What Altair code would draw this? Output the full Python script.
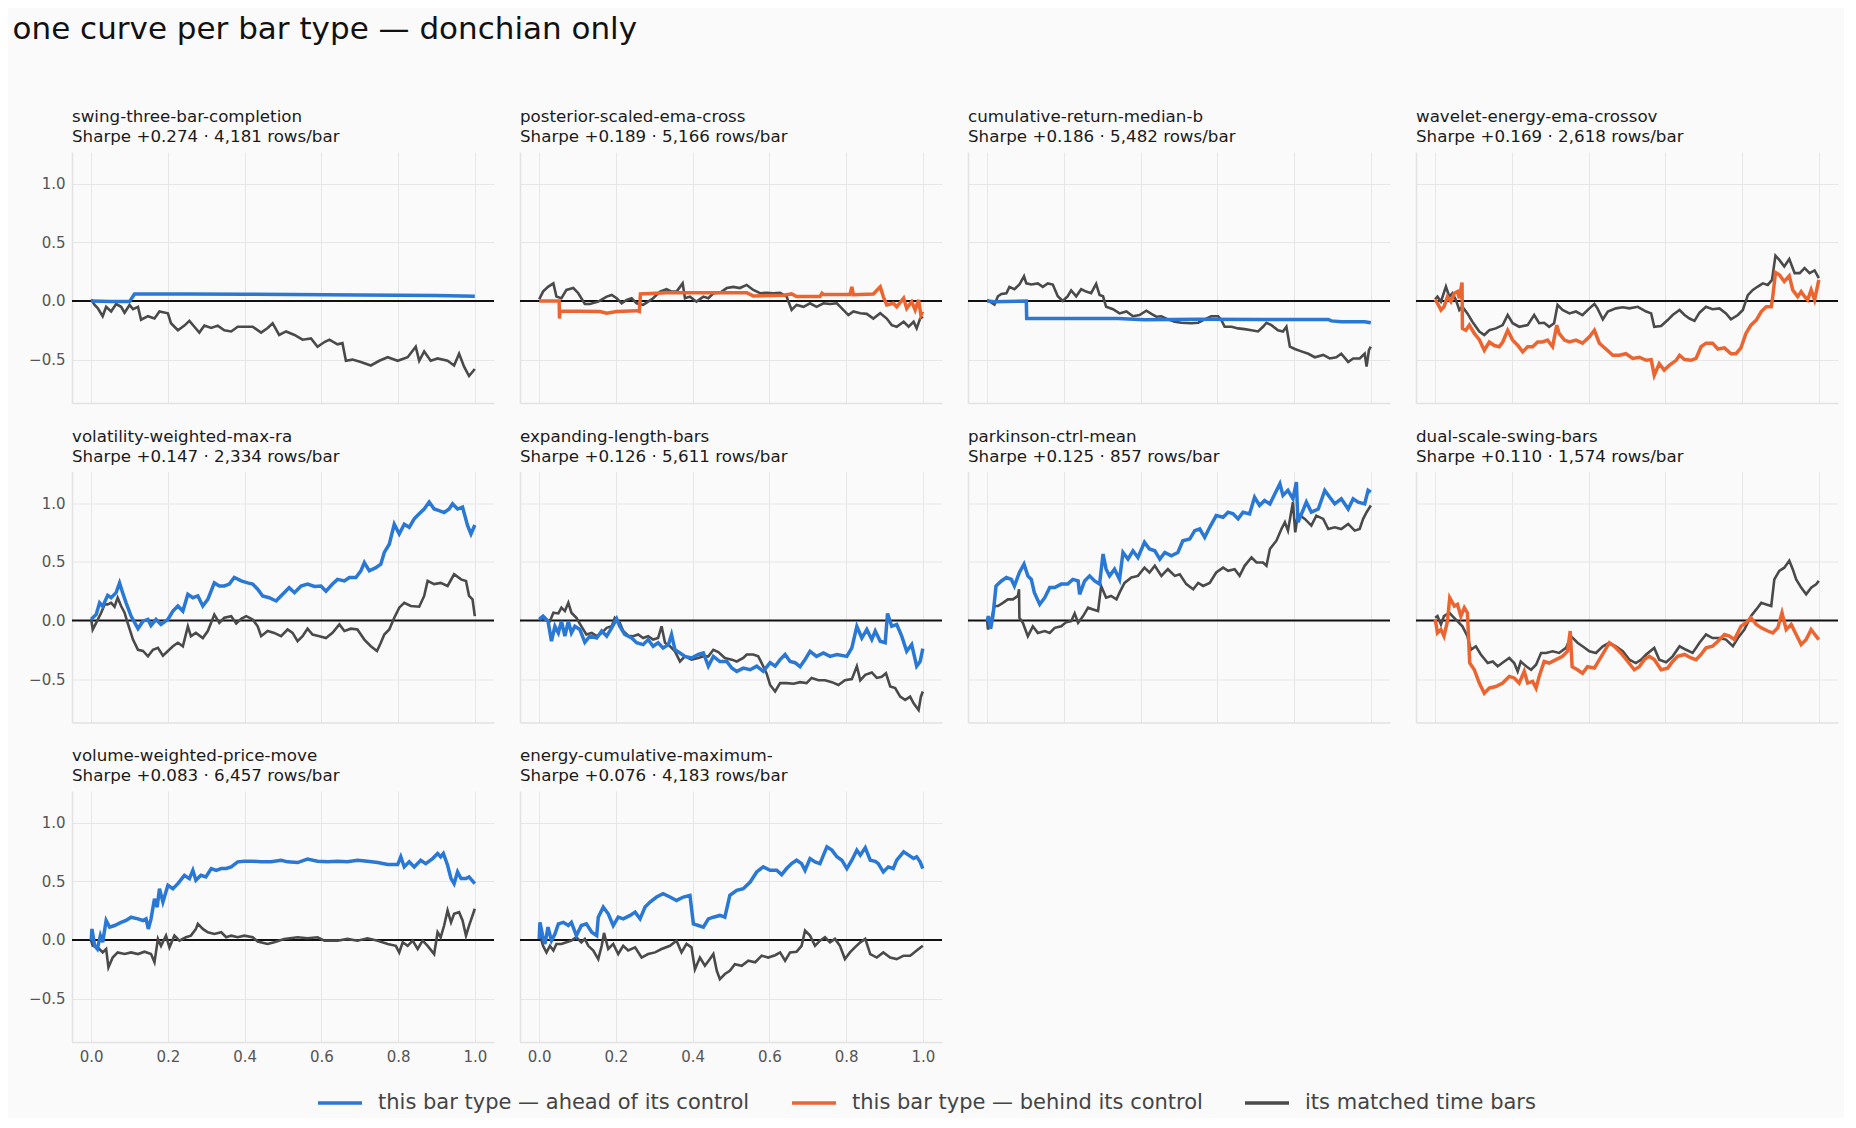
import altair as alt
import pandas as pd

# legend labels
AHEAD = "this bar type — ahead of its control"
BEHIND = "this bar type — behind its control"
MATCHED = "its matched time bars"

names = [
    "swing-three-bar-completion", "posterior-scaled-ema-cross", "cumulative-return-median-b",
    "wavelet-energy-ema-crossov", "volatility-weighted-max-ra", "expanding-length-bars",
    "parkinson-ctrl-mean", "dual-scale-swing-bars", "volume-weighted-price-move",
    "energy-cumulative-maximum-",
]
sharpe = [0.274, 0.189, 0.186, 0.169, 0.147, 0.126, 0.125, 0.110, 0.083, 0.076]
rows_per_bar = [4181, 5166, 5482, 2618, 2334, 5611, 857, 1574, 6457, 4183]
ahead = [True, False, True, False, True, True, True, False, True, True]

# (fraction of run, cumulative return)
swing_bar = [(0.0, 0.0), (0.05, -0.004), (0.10, -0.005), (0.105, 0.02), (0.113, 0.06), (0.25, 0.06),
             (0.40, 0.058), (0.52, 0.055), (0.70, 0.051), (0.90, 0.046), (1.0, 0.04)]
swing_ctrl = [(0.0, 0.014), (0.009, -0.034), (0.017, -0.06), (0.030, -0.13), (0.039, -0.05), (0.052, -0.09),
              (0.065, -0.026), (0.078, -0.05), (0.087, -0.10), (0.100, -0.034), (0.109, -0.07), (0.122, -0.05),
              (0.130, -0.16), (0.148, -0.13), (0.165, -0.15), (0.178, -0.09), (0.200, -0.105), (0.208, -0.19),
              (0.226, -0.25), (0.243, -0.21), (0.256, -0.17), (0.269, -0.22), (0.282, -0.27), (0.295, -0.21),
              (0.313, -0.23), (0.330, -0.21), (0.347, -0.25), (0.365, -0.26), (0.382, -0.22), (0.400, -0.22),
              (0.421, -0.22), (0.443, -0.27), (0.460, -0.23), (0.473, -0.19), (0.490, -0.29), (0.508, -0.26),
              (0.530, -0.29), (0.551, -0.33), (0.573, -0.32), (0.590, -0.39), (0.608, -0.35), (0.621, -0.33),
              (0.642, -0.37), (0.655, -0.36), (0.664, -0.51), (0.681, -0.50), (0.703, -0.52), (0.729, -0.55),
              (0.751, -0.51), (0.773, -0.48), (0.799, -0.51), (0.825, -0.48), (0.846, -0.39), (0.855, -0.51),
              (0.868, -0.43), (0.885, -0.51), (0.903, -0.49), (0.929, -0.51), (0.946, -0.55), (0.959, -0.45),
              (0.972, -0.56), (0.985, -0.64), (1.0, -0.58)]

posterior_bar = [(0.0, 0.0), (0.052, 0.0), (0.053, -0.15), (0.054, -0.086), (0.158, -0.09), (0.176, -0.105),
                 (0.202, -0.09), (0.254, -0.083), (0.261, -0.09), (0.264, 0.06), (0.332, 0.07), (0.463, 0.07),
                 (0.541, 0.07), (0.558, 0.043), (0.637, 0.049), (0.658, 0.06), (0.671, 0.037), (0.732, 0.037),
                 (0.737, 0.066), (0.741, 0.054), (0.810, 0.054), (0.815, 0.12), (0.819, 0.054), (0.871, 0.06),
                 (0.889, 0.12), (0.897, 0.037), (0.906, -0.034), (0.923, -0.02), (0.932, -0.05), (0.950, 0.023),
                 (0.958, -0.063), (0.971, -0.006), (0.980, -0.077), (0.989, 0.009), (0.995, -0.12), (1.0, -0.09)]
posterior_ctrl = [(0.0, 0.014), (0.010, 0.08), (0.023, 0.12), (0.037, 0.15), (0.045, 0.037), (0.058, 0.023),
                  (0.071, 0.094), (0.089, 0.11), (0.102, 0.066), (0.119, -0.026), (0.132, -0.026), (0.154, -0.006),
                  (0.176, 0.037), (0.189, 0.051), (0.202, 0.023), (0.215, -0.02), (0.228, 0.009), (0.241, 0.023),
                  (0.254, -0.02), (0.271, -0.034), (0.284, -0.006), (0.297, 0.023), (0.315, 0.08), (0.332, 0.10),
                  (0.345, 0.08), (0.358, 0.08), (0.374, 0.15), (0.380, 0.023), (0.393, 0.037), (0.410, -0.006),
                  (0.428, 0.037), (0.441, 0.023), (0.454, 0.066), (0.471, 0.07), (0.489, 0.11), (0.506, 0.12),
                  (0.523, 0.11), (0.541, 0.137), (0.558, 0.094), (0.576, 0.066), (0.593, 0.07), (0.610, 0.066),
                  (0.628, 0.07), (0.645, 0.037), (0.658, -0.077), (0.671, -0.034), (0.689, -0.05), (0.706, -0.02),
                  (0.723, -0.05), (0.741, -0.02), (0.758, -0.026), (0.776, -0.02), (0.789, -0.063), (0.806, -0.12),
                  (0.819, -0.09), (0.837, -0.105), (0.854, -0.11), (0.871, -0.15), (0.889, -0.105), (0.906, -0.15),
                  (0.919, -0.206), (0.932, -0.22), (0.950, -0.177), (0.963, -0.22), (0.976, -0.177), (0.984, -0.234),
                  (0.993, -0.15), (1.0, -0.134)]

cumret_bar = [(0.0, 0.0), (0.019, -0.006), (0.102, 0.0), (0.103, -0.15), (0.341, -0.15), (0.410, -0.16),
              (0.550, -0.157), (0.723, -0.158), (0.889, -0.158), (0.897, -0.17), (0.923, -0.177), (0.984, -0.177),
              (1.0, -0.186)]
cumret_ctrl = [(0.0, 0.01), (0.019, -0.03), (0.028, 0.04), (0.037, 0.06), (0.050, 0.066), (0.058, 0.12),
               (0.071, 0.10), (0.084, 0.14), (0.096, 0.21), (0.102, 0.15), (0.115, 0.14), (0.132, 0.15),
               (0.145, 0.12), (0.158, 0.15), (0.171, 0.14), (0.184, 0.04), (0.197, 0.0), (0.210, 0.04),
               (0.219, 0.09), (0.232, 0.04), (0.245, 0.10), (0.258, 0.08), (0.271, 0.066), (0.284, 0.146),
               (0.293, 0.05), (0.302, 0.04), (0.310, -0.05), (0.328, -0.07), (0.345, -0.106), (0.363, -0.09),
               (0.380, -0.13), (0.397, -0.12), (0.415, -0.083), (0.428, -0.11), (0.441, -0.134), (0.454, -0.13),
               (0.471, -0.157), (0.489, -0.177), (0.506, -0.186), (0.532, -0.19), (0.550, -0.186), (0.567, -0.157),
               (0.584, -0.13), (0.602, -0.13), (0.610, -0.16), (0.619, -0.22), (0.637, -0.22), (0.654, -0.234),
               (0.671, -0.24), (0.689, -0.25), (0.706, -0.26), (0.719, -0.22), (0.728, -0.186), (0.741, -0.206),
               (0.758, -0.25), (0.771, -0.26), (0.780, -0.22), (0.789, -0.39), (0.802, -0.41), (0.819, -0.43),
               (0.837, -0.45), (0.854, -0.48), (0.876, -0.46), (0.893, -0.49), (0.910, -0.48), (0.923, -0.45),
               (0.941, -0.52), (0.954, -0.49), (0.971, -0.49), (0.984, -0.45), (0.989, -0.56), (0.995, -0.42),
               (1.0, -0.39)]

wavelet_bar = [(0.0, 0.014), (0.006, -0.02), (0.015, -0.077), (0.023, -0.05), (0.032, 0.037), (0.041, -0.006),
               (0.050, 0.066), (0.058, 0.08), (0.063, 0.023), (0.070, 0.157), (0.071, -0.234), (0.080, -0.25),
               (0.089, -0.206), (0.102, -0.277), (0.115, -0.33), (0.128, -0.42), (0.141, -0.35), (0.154, -0.38),
               (0.167, -0.39), (0.176, -0.35), (0.189, -0.25), (0.202, -0.334), (0.215, -0.377), (0.228, -0.434),
               (0.241, -0.39), (0.254, -0.39), (0.267, -0.35), (0.280, -0.35), (0.293, -0.334), (0.306, -0.39),
               (0.317, -0.206), (0.323, -0.277), (0.337, -0.334), (0.350, -0.35), (0.367, -0.334), (0.384, -0.36),
               (0.402, -0.306), (0.415, -0.25), (0.428, -0.36), (0.445, -0.41), (0.463, -0.463), (0.480, -0.463),
               (0.497, -0.45), (0.515, -0.49), (0.532, -0.48), (0.550, -0.506), (0.563, -0.50), (0.571, -0.634),
               (0.584, -0.534), (0.597, -0.59), (0.610, -0.55), (0.628, -0.506), (0.637, -0.463), (0.650, -0.50),
               (0.667, -0.506), (0.680, -0.49), (0.693, -0.39), (0.706, -0.36), (0.723, -0.36), (0.737, -0.41),
               (0.754, -0.40), (0.771, -0.45), (0.784, -0.45), (0.797, -0.40), (0.810, -0.277), (0.823, -0.206),
               (0.837, -0.163), (0.850, -0.09), (0.863, -0.05), (0.876, -0.05), (0.880, 0.037), (0.887, 0.243),
               (0.897, 0.223), (0.910, 0.166), (0.923, 0.214), (0.932, 0.094), (0.945, 0.037), (0.954, 0.08),
               (0.963, 0.037), (0.971, 0.009), (0.980, 0.094), (0.989, 0.009), (1.0, 0.18)]
wavelet_ctrl = [(0.0, 0.014), (0.006, 0.037), (0.015, -0.006), (0.028, 0.123), (0.037, 0.037), (0.045, 0.066),
                (0.054, 0.009), (0.063, -0.077), (0.071, -0.05), (0.084, -0.106), (0.097, -0.177), (0.115, -0.26),
                (0.128, -0.29), (0.141, -0.25), (0.158, -0.234), (0.176, -0.206), (0.189, -0.12), (0.202, -0.19),
                (0.219, -0.22), (0.241, -0.206), (0.258, -0.12), (0.271, -0.19), (0.284, -0.186), (0.297, -0.22),
                (0.310, -0.19), (0.319, -0.034), (0.332, -0.077), (0.350, -0.106), (0.367, -0.09), (0.384, -0.12),
                (0.402, -0.063), (0.415, -0.026), (0.423, -0.063), (0.437, -0.157), (0.450, -0.09), (0.471, -0.063),
                (0.489, -0.054), (0.506, -0.063), (0.528, -0.05), (0.550, -0.09), (0.563, -0.106), (0.571, -0.22),
                (0.589, -0.214), (0.606, -0.163), (0.619, -0.12), (0.637, -0.077), (0.650, -0.12), (0.663, -0.15),
                (0.676, -0.17), (0.689, -0.10), (0.706, -0.05), (0.723, -0.07), (0.741, -0.063), (0.758, -0.106),
                (0.771, -0.157), (0.789, -0.12), (0.802, -0.077), (0.815, 0.05), (0.828, 0.094), (0.841, 0.123),
                (0.854, 0.15), (0.867, 0.137), (0.878, 0.18), (0.887, 0.386), (0.897, 0.35), (0.910, 0.294),
                (0.923, 0.357), (0.937, 0.237), (0.950, 0.237), (0.963, 0.28), (0.976, 0.237), (0.989, 0.26),
                (1.0, 0.194)]

volmax_bar = [(0.0, 0.01), (0.004, 0.023), (0.013, 0.05), (0.022, 0.15), (0.030, 0.12), (0.043, 0.214),
              (0.052, 0.194), (0.065, 0.237), (0.074, 0.32), (0.082, 0.237), (0.091, 0.15), (0.104, 0.037),
              (0.122, -0.07), (0.135, -0.006), (0.148, 0.009), (0.156, -0.043), (0.169, 0.009), (0.182, -0.034),
              (0.200, 0.009), (0.213, 0.08), (0.226, 0.123), (0.239, 0.08), (0.252, 0.223), (0.265, 0.194),
              (0.278, 0.209), (0.291, 0.123), (0.304, 0.18), (0.321, 0.32), (0.334, 0.294), (0.347, 0.294),
              (0.360, 0.31), (0.373, 0.366), (0.391, 0.337), (0.408, 0.32), (0.421, 0.31), (0.434, 0.266),
              (0.447, 0.209), (0.464, 0.194), (0.482, 0.166), (0.490, 0.194), (0.503, 0.237), (0.516, 0.28),
              (0.530, 0.237), (0.547, 0.294), (0.564, 0.31), (0.582, 0.29), (0.599, 0.294), (0.612, 0.25),
              (0.629, 0.31), (0.642, 0.35), (0.660, 0.337), (0.673, 0.366), (0.690, 0.366), (0.703, 0.423),
              (0.712, 0.494), (0.725, 0.423), (0.742, 0.45), (0.755, 0.48), (0.764, 0.58), (0.777, 0.65),
              (0.790, 0.82), (0.803, 0.737), (0.816, 0.82), (0.829, 0.794), (0.842, 0.866), (0.855, 0.91),
              (0.868, 0.95), (0.881, 1.01), (0.894, 0.95), (0.907, 0.937), (0.920, 0.92), (0.933, 0.95),
              (0.942, 0.994), (0.955, 0.95), (0.968, 0.966), (0.981, 0.81), (0.990, 0.737), (1.0, 0.814)]
volmax_ctrl = [(0.0, 0.01), (0.004, -0.077), (0.013, -0.02), (0.026, 0.066), (0.035, 0.137), (0.043, 0.137),
               (0.052, 0.15), (0.061, 0.117), (0.069, 0.194), (0.078, 0.123), (0.087, 0.066), (0.095, -0.02),
               (0.109, -0.163), (0.122, -0.25), (0.135, -0.26), (0.148, -0.306), (0.161, -0.25), (0.174, -0.234),
               (0.187, -0.3), (0.200, -0.26), (0.213, -0.22), (0.226, -0.19), (0.239, -0.22), (0.252, -0.05),
               (0.260, -0.134), (0.273, -0.106), (0.291, -0.15), (0.304, -0.09), (0.321, 0.05), (0.334, -0.02),
               (0.347, 0.023), (0.365, 0.037), (0.378, -0.026), (0.391, 0.014), (0.404, 0.037), (0.421, 0.009),
               (0.434, -0.05), (0.443, -0.134), (0.460, -0.09), (0.477, -0.106), (0.495, -0.134), (0.512, -0.077),
               (0.525, -0.106), (0.538, -0.177), (0.551, -0.134), (0.564, -0.07), (0.577, -0.12), (0.595, -0.134),
               (0.612, -0.15), (0.629, -0.106), (0.647, -0.034), (0.660, -0.09), (0.677, -0.07), (0.694, -0.077),
               (0.712, -0.163), (0.729, -0.22), (0.745, -0.26), (0.755, -0.19), (0.764, -0.12), (0.777, -0.077),
               (0.790, 0.023), (0.803, 0.109), (0.816, 0.15), (0.833, 0.123), (0.855, 0.117), (0.868, 0.209),
               (0.877, 0.337), (0.894, 0.31), (0.911, 0.32), (0.929, 0.294), (0.946, 0.394), (0.964, 0.35),
               (0.977, 0.337), (0.985, 0.209), (0.994, 0.18), (1.0, 0.037)]

expanding_bar = [(0.0, 0.01), (0.010, 0.037), (0.023, -0.006), (0.032, -0.177), (0.041, -0.05), (0.050, -0.106),
                 (0.058, -0.006), (0.067, -0.134), (0.076, -0.006), (0.084, -0.106), (0.093, -0.05), (0.106, -0.077),
                 (0.119, -0.186), (0.132, -0.134), (0.150, -0.15), (0.163, -0.09), (0.176, -0.134), (0.189, -0.063),
                 (0.202, 0.014), (0.210, -0.05), (0.223, -0.12), (0.241, -0.15), (0.254, -0.19), (0.271, -0.206),
                 (0.284, -0.163), (0.297, -0.22), (0.310, -0.19), (0.323, -0.234), (0.337, -0.206), (0.345, -0.12),
                 (0.354, -0.25), (0.367, -0.277), (0.380, -0.306), (0.397, -0.32), (0.415, -0.29), (0.428, -0.277),
                 (0.441, -0.39), (0.454, -0.306), (0.471, -0.35), (0.489, -0.35), (0.502, -0.406), (0.515, -0.434),
                 (0.532, -0.406), (0.550, -0.42), (0.567, -0.39), (0.584, -0.434), (0.602, -0.36), (0.615, -0.39),
                 (0.628, -0.334), (0.641, -0.29), (0.654, -0.35), (0.667, -0.36), (0.680, -0.394), (0.693, -0.334),
                 (0.706, -0.263), (0.723, -0.306), (0.741, -0.277), (0.758, -0.306), (0.776, -0.29), (0.802, -0.306),
                 (0.815, -0.234), (0.828, -0.05), (0.841, -0.15), (0.854, -0.077), (0.867, -0.163), (0.876, -0.09),
                 (0.889, -0.177), (0.902, -0.19), (0.908, 0.06), (0.919, -0.05), (0.932, -0.034), (0.945, -0.134),
                 (0.958, -0.263), (0.971, -0.206), (0.984, -0.39), (0.993, -0.35), (1.0, -0.24)]
expanding_ctrl = [(0.0, 0.01), (0.010, 0.01), (0.028, -0.006), (0.037, 0.066), (0.050, 0.06), (0.058, 0.109),
                  (0.067, 0.08), (0.076, 0.15), (0.084, 0.066), (0.097, 0.023), (0.110, -0.05), (0.123, -0.12),
                  (0.137, -0.106), (0.150, -0.134), (0.163, -0.106), (0.176, -0.063), (0.189, -0.05), (0.197, 0.023),
                  (0.210, -0.02), (0.219, -0.09), (0.232, -0.13), (0.245, -0.134), (0.258, -0.12), (0.271, -0.15),
                  (0.284, -0.134), (0.297, -0.163), (0.310, -0.15), (0.319, -0.05), (0.328, -0.19), (0.341, -0.22),
                  (0.354, -0.263), (0.367, -0.35), (0.380, -0.306), (0.397, -0.334), (0.415, -0.32), (0.428, -0.306),
                  (0.441, -0.306), (0.454, -0.25), (0.467, -0.27), (0.484, -0.32), (0.502, -0.334), (0.515, -0.35),
                  (0.532, -0.32), (0.541, -0.29), (0.558, -0.29), (0.571, -0.306), (0.584, -0.39), (0.593, -0.454),
                  (0.602, -0.55), (0.615, -0.606), (0.628, -0.534), (0.645, -0.534), (0.663, -0.54), (0.680, -0.526),
                  (0.697, -0.534), (0.710, -0.49), (0.728, -0.51), (0.745, -0.51), (0.763, -0.526), (0.780, -0.55),
                  (0.797, -0.51), (0.815, -0.50), (0.828, -0.39), (0.837, -0.51), (0.850, -0.463), (0.867, -0.443),
                  (0.880, -0.49), (0.893, -0.48), (0.904, -0.45), (0.915, -0.563), (0.928, -0.577), (0.941, -0.65),
                  (0.954, -0.677), (0.967, -0.65), (0.976, -0.706), (0.989, -0.763), (0.995, -0.65), (1.0, -0.606)]

parkinson_bar = [(0.0, -0.006), (0.003, 0.037), (0.009, -0.07), (0.015, 0.037), (0.023, 0.294), (0.037, 0.337),
                 (0.050, 0.366), (0.063, 0.35), (0.071, 0.294), (0.084, 0.409), (0.096, 0.48), (0.106, 0.38),
                 (0.115, 0.35), (0.123, 0.237), (0.137, 0.137), (0.150, 0.194), (0.163, 0.28), (0.176, 0.28),
                 (0.193, 0.31), (0.210, 0.31), (0.223, 0.35), (0.237, 0.337), (0.241, 0.223), (0.254, 0.337),
                 (0.267, 0.38), (0.280, 0.337), (0.293, 0.31), (0.302, 0.566), (0.310, 0.437), (0.319, 0.38),
                 (0.332, 0.437), (0.345, 0.35), (0.354, 0.58), (0.367, 0.523), (0.380, 0.594), (0.393, 0.537),
                 (0.410, 0.666), (0.423, 0.609), (0.437, 0.594), (0.450, 0.523), (0.463, 0.58), (0.480, 0.551),
                 (0.497, 0.58), (0.510, 0.68), (0.528, 0.694), (0.541, 0.766), (0.554, 0.78), (0.567, 0.709),
                 (0.580, 0.794), (0.597, 0.894), (0.615, 0.88), (0.628, 0.923), (0.641, 0.909), (0.654, 0.866),
                 (0.667, 0.923), (0.684, 0.909), (0.697, 1.05), (0.710, 0.98), (0.723, 1.023), (0.737, 0.994),
                 (0.750, 1.08), (0.763, 1.166), (0.771, 1.066), (0.784, 1.109), (0.797, 1.037), (0.806, 1.18),
                 (0.810, 0.837), (0.823, 0.937), (0.832, 1.009), (0.845, 0.923), (0.863, 0.95), (0.880, 1.109),
                 (0.893, 1.05), (0.906, 0.994), (0.923, 1.037), (0.941, 0.95), (0.954, 1.037), (0.967, 1.009),
                 (0.984, 0.994), (0.993, 1.109), (1.0, 1.094)]
parkinson_ctrl = [(0.0, -0.006), (0.002, -0.077), (0.010, -0.006), (0.019, 0.123), (0.028, 0.123), (0.041, 0.15),
                  (0.054, 0.18), (0.067, 0.18), (0.080, 0.209), (0.083, 0.266), (0.084, 0.023), (0.093, -0.02),
                  (0.106, -0.134), (0.119, -0.05), (0.132, -0.106), (0.150, -0.09), (0.163, -0.106), (0.176, -0.063),
                  (0.193, -0.05), (0.206, -0.014), (0.219, -0.006), (0.228, 0.06), (0.237, -0.02), (0.250, 0.037),
                  (0.263, 0.109), (0.276, 0.094), (0.289, 0.08), (0.297, 0.294), (0.310, 0.194), (0.323, 0.209),
                  (0.337, 0.18), (0.345, 0.237), (0.358, 0.32), (0.376, 0.366), (0.393, 0.38), (0.410, 0.45),
                  (0.423, 0.409), (0.437, 0.466), (0.454, 0.38), (0.471, 0.437), (0.489, 0.38), (0.502, 0.394),
                  (0.519, 0.31), (0.537, 0.266), (0.550, 0.32), (0.563, 0.294), (0.580, 0.32), (0.597, 0.409),
                  (0.615, 0.45), (0.628, 0.423), (0.645, 0.437), (0.658, 0.38), (0.671, 0.466), (0.689, 0.537),
                  (0.702, 0.494), (0.719, 0.494), (0.728, 0.466), (0.737, 0.609), (0.754, 0.68), (0.767, 0.78),
                  (0.776, 0.837), (0.784, 0.766), (0.797, 1.009), (0.803, 0.751), (0.810, 0.909), (0.828, 0.866),
                  (0.845, 0.809), (0.858, 0.894), (0.876, 0.866), (0.889, 0.78), (0.906, 0.794), (0.923, 0.78),
                  (0.941, 0.823), (0.958, 0.766), (0.971, 0.78), (0.980, 0.866), (0.989, 0.923), (1.0, 0.98)]

dualswing_bar = [(0.0, 0.01), (0.006, -0.106), (0.015, -0.077), (0.023, -0.134), (0.032, -0.006), (0.038, 0.194),
                 (0.050, 0.123), (0.058, 0.137), (0.067, 0.037), (0.076, 0.109), (0.084, 0.066), (0.090, -0.363),
                 (0.102, -0.42), (0.115, -0.534), (0.128, -0.62), (0.141, -0.577), (0.158, -0.563), (0.176, -0.534),
                 (0.193, -0.477), (0.206, -0.49), (0.219, -0.534), (0.232, -0.434), (0.241, -0.534), (0.254, -0.52),
                 (0.263, -0.577), (0.271, -0.477), (0.284, -0.35), (0.297, -0.363), (0.315, -0.334), (0.332, -0.306),
                 (0.345, -0.263), (0.352, -0.09), (0.357, -0.394), (0.371, -0.42), (0.384, -0.45), (0.397, -0.394),
                 (0.415, -0.406), (0.428, -0.334), (0.441, -0.263), (0.454, -0.19), (0.467, -0.22), (0.484, -0.277),
                 (0.502, -0.35), (0.519, -0.42), (0.532, -0.394), (0.545, -0.334), (0.558, -0.306), (0.571, -0.334),
                 (0.589, -0.42), (0.606, -0.406), (0.619, -0.35), (0.632, -0.306), (0.650, -0.29), (0.667, -0.32),
                 (0.680, -0.334), (0.693, -0.29), (0.706, -0.234), (0.723, -0.22), (0.737, -0.177), (0.754, -0.12),
                 (0.767, -0.134), (0.780, -0.163), (0.797, -0.05), (0.810, -0.02), (0.823, 0.023), (0.837, -0.034),
                 (0.850, -0.063), (0.867, -0.09), (0.880, -0.106), (0.893, -0.063), (0.904, 0.066), (0.915, -0.077),
                 (0.928, -0.034), (0.941, -0.12), (0.954, -0.206), (0.967, -0.163), (0.980, -0.077), (0.993, -0.134),
                 (1.0, -0.163)]
dualswing_ctrl = [(0.0, 0.023), (0.006, 0.037), (0.015, -0.034), (0.023, 0.037), (0.037, 0.066), (0.045, 0.037),
                  (0.058, -0.006), (0.071, -0.05), (0.084, -0.134), (0.093, -0.25), (0.106, -0.22), (0.119, -0.29),
                  (0.137, -0.363), (0.150, -0.35), (0.163, -0.39), (0.180, -0.35), (0.193, -0.32), (0.206, -0.363),
                  (0.215, -0.434), (0.223, -0.35), (0.237, -0.39), (0.250, -0.42), (0.263, -0.377), (0.276, -0.277),
                  (0.289, -0.277), (0.306, -0.263), (0.323, -0.277), (0.341, -0.234), (0.354, -0.134), (0.371, -0.19),
                  (0.384, -0.22), (0.402, -0.263), (0.419, -0.277), (0.437, -0.22), (0.454, -0.19), (0.471, -0.22),
                  (0.489, -0.263), (0.506, -0.334), (0.523, -0.363), (0.537, -0.334), (0.550, -0.29), (0.571, -0.234),
                  (0.584, -0.334), (0.602, -0.357), (0.619, -0.306), (0.637, -0.22), (0.654, -0.25), (0.671, -0.277),
                  (0.689, -0.19), (0.706, -0.12), (0.723, -0.15), (0.741, -0.15), (0.758, -0.163), (0.776, -0.22),
                  (0.789, -0.15), (0.806, -0.077), (0.823, 0.037), (0.837, 0.094), (0.850, 0.15), (0.863, 0.137),
                  (0.876, 0.123), (0.884, 0.35), (0.897, 0.423), (0.910, 0.45), (0.923, 0.509), (0.932, 0.437),
                  (0.941, 0.35), (0.954, 0.28), (0.967, 0.223), (0.980, 0.28), (0.993, 0.309), (1.0, 0.337)]

volprice_bar = [(0.0, -0.006), (0.002, 0.094), (0.009, -0.05), (0.016, -0.077), (0.024, 0.037), (0.030, -0.02),
                (0.039, 0.166), (0.048, 0.109), (0.061, 0.123), (0.078, 0.15), (0.091, 0.166), (0.104, 0.194),
                (0.122, 0.18), (0.135, 0.166), (0.143, 0.18), (0.149, 0.094), (0.156, 0.18), (0.165, 0.35),
                (0.172, 0.28), (0.178, 0.437), (0.187, 0.323), (0.200, 0.466), (0.213, 0.437), (0.226, 0.48),
                (0.243, 0.551), (0.256, 0.523), (0.265, 0.594), (0.273, 0.509), (0.286, 0.551), (0.299, 0.537),
                (0.313, 0.609), (0.326, 0.594), (0.339, 0.609), (0.352, 0.609), (0.365, 0.623), (0.382, 0.666),
                (0.399, 0.671), (0.421, 0.671), (0.443, 0.666), (0.469, 0.666), (0.495, 0.68), (0.512, 0.666),
                (0.538, 0.66), (0.564, 0.689), (0.590, 0.671), (0.616, 0.666), (0.642, 0.671), (0.668, 0.666),
                (0.694, 0.68), (0.720, 0.671), (0.747, 0.66), (0.773, 0.643), (0.799, 0.643), (0.807, 0.709),
                (0.816, 0.623), (0.829, 0.666), (0.842, 0.623), (0.859, 0.68), (0.872, 0.651), (0.890, 0.694),
                (0.903, 0.737), (0.911, 0.709), (0.918, 0.737), (0.929, 0.637), (0.938, 0.523), (0.946, 0.48),
                (0.955, 0.58), (0.964, 0.523), (0.977, 0.523), (0.985, 0.537), (1.0, 0.48)]
volprice_ctrl = [(0.0, -0.006), (0.004, -0.05), (0.017, -0.063), (0.030, -0.106), (0.039, -0.077), (0.045, -0.234),
                 (0.056, -0.15), (0.069, -0.106), (0.087, -0.12), (0.104, -0.106), (0.122, -0.12), (0.139, -0.10),
                 (0.156, -0.12), (0.165, -0.19), (0.174, 0.009), (0.182, -0.05), (0.195, 0.037), (0.204, -0.063),
                 (0.217, 0.037), (0.230, -0.006), (0.247, 0.023), (0.260, 0.037), (0.273, 0.094), (0.278, 0.137),
                 (0.291, 0.094), (0.304, 0.066), (0.321, 0.051), (0.339, 0.066), (0.352, 0.023), (0.365, 0.037),
                 (0.382, 0.023), (0.399, 0.037), (0.421, 0.023), (0.434, -0.014), (0.460, -0.034), (0.477, -0.02),
                 (0.503, 0.009), (0.538, 0.023), (0.564, 0.014), (0.590, 0.023), (0.608, -0.006), (0.642, -0.006),
                 (0.668, 0.009), (0.694, -0.006), (0.720, 0.014), (0.747, -0.006), (0.773, -0.034), (0.794, -0.05),
                 (0.803, -0.106), (0.812, -0.02), (0.825, -0.05), (0.838, -0.006), (0.851, -0.077), (0.864, -0.006),
                 (0.877, -0.05), (0.894, -0.12), (0.903, 0.066), (0.911, 0.023), (0.920, 0.123), (0.929, 0.251),
                 (0.938, 0.15), (0.946, 0.223), (0.959, 0.237), (0.968, 0.166), (0.977, 0.037), (0.985, 0.123),
                 (1.0, 0.266)]

energy_bar = [(0.0, 0.01), (0.002, 0.15), (0.009, 0.037), (0.015, -0.034), (0.023, 0.109), (0.032, -0.006),
              (0.041, 0.051), (0.050, 0.137), (0.063, 0.15), (0.076, 0.123), (0.084, 0.15), (0.097, 0.037),
              (0.110, 0.123), (0.123, 0.137), (0.137, 0.066), (0.150, 0.037), (0.154, 0.194), (0.167, 0.28),
              (0.180, 0.223), (0.193, 0.123), (0.206, 0.194), (0.219, 0.18), (0.237, 0.209), (0.250, 0.237),
              (0.263, 0.18), (0.276, 0.28), (0.289, 0.323), (0.306, 0.366), (0.323, 0.394), (0.341, 0.366),
              (0.358, 0.337), (0.376, 0.366), (0.393, 0.38), (0.402, 0.137), (0.415, 0.123), (0.428, 0.109),
              (0.441, 0.18), (0.454, 0.194), (0.471, 0.209), (0.484, 0.194), (0.497, 0.38), (0.515, 0.423),
              (0.532, 0.437), (0.550, 0.494), (0.567, 0.58), (0.584, 0.623), (0.602, 0.594), (0.619, 0.594),
              (0.632, 0.557), (0.645, 0.609), (0.658, 0.651), (0.671, 0.68), (0.684, 0.651), (0.693, 0.594),
              (0.706, 0.694), (0.719, 0.666), (0.732, 0.651), (0.741, 0.723), (0.750, 0.794), (0.763, 0.766),
              (0.776, 0.709), (0.789, 0.68), (0.802, 0.609), (0.815, 0.68), (0.828, 0.766), (0.837, 0.723),
              (0.850, 0.786), (0.863, 0.68), (0.876, 0.671), (0.884, 0.651), (0.897, 0.58), (0.910, 0.623),
              (0.923, 0.609), (0.932, 0.68), (0.950, 0.751), (0.963, 0.723), (0.976, 0.694), (0.984, 0.709),
              (0.993, 0.666), (1.0, 0.609)]
energy_ctrl = [(0.0, 0.01), (0.003, 0.037), (0.010, -0.05), (0.019, -0.106), (0.028, -0.05), (0.037, -0.09),
               (0.045, -0.034), (0.058, -0.034), (0.071, -0.02), (0.084, -0.006), (0.097, 0.023), (0.110, -0.02),
               (0.119, 0.009), (0.128, -0.05), (0.141, -0.09), (0.154, -0.163), (0.163, -0.05), (0.169, 0.06),
               (0.180, -0.077), (0.193, -0.034), (0.206, -0.12), (0.219, -0.05), (0.232, -0.09), (0.250, -0.063),
               (0.267, -0.15), (0.284, -0.12), (0.302, -0.106), (0.319, -0.077), (0.341, -0.05), (0.358, -0.006),
               (0.371, -0.106), (0.384, -0.034), (0.397, -0.063), (0.406, -0.25), (0.419, -0.15), (0.432, -0.22),
               (0.445, -0.163), (0.454, -0.12), (0.463, -0.263), (0.471, -0.334), (0.484, -0.29), (0.497, -0.263),
               (0.510, -0.206), (0.528, -0.22), (0.545, -0.177), (0.563, -0.19), (0.580, -0.134), (0.597, -0.15),
               (0.615, -0.13), (0.628, -0.106), (0.641, -0.177), (0.654, -0.106), (0.671, -0.10), (0.684, -0.05),
               (0.693, 0.08), (0.706, 0.037), (0.719, -0.05), (0.732, -0.006), (0.745, 0.023), (0.758, -0.02),
               (0.771, 0.009), (0.784, -0.05), (0.797, -0.163), (0.810, -0.106), (0.823, -0.063), (0.837, -0.02),
               (0.850, 0.009), (0.863, -0.12), (0.880, -0.15), (0.897, -0.106), (0.915, -0.15), (0.932, -0.163),
               (0.950, -0.134), (0.967, -0.134), (0.984, -0.09), (1.0, -0.05)]

bar_curves = [swing_bar, posterior_bar, cumret_bar, wavelet_bar, volmax_bar,
              expanding_bar, parkinson_bar, dualswing_bar, volprice_bar, energy_bar]
ctrl_curves = [swing_ctrl, posterior_ctrl, cumret_ctrl, wavelet_ctrl, volmax_ctrl,
               expanding_ctrl, parkinson_ctrl, dualswing_ctrl, volprice_ctrl, energy_ctrl]

FONT = "DejaVu Sans"
color = alt.Color(
    "series:N",
    scale=alt.Scale(domain=[AHEAD, BEHIND, MATCHED], range=["#2a78d6", "#ec6530", "#4a4a4a"]),
    legend=alt.Legend(
        title=None, orient="none", direction="horizontal", legendX=244, legendY=927,
        symbolType="stroke", symbolSize=1936, symbolStrokeWidth=3.4,
        labelFont=FONT, labelFontSize=21, labelColor="#444444", labelLimit=600,
        labelOffset=14, columnPadding=35,
    ),
)


def to_frame(points, series):
    df = pd.DataFrame(points, columns=["x", "y"])
    df["series"] = series
    df["k"] = range(len(df))
    return df


def panel(i):
    show_x = i >= 8
    show_y = i % 4 == 0
    xs = alt.X("x:Q", scale=alt.Scale(domain=[-0.05, 1.05], nice=False, zero=False),
               axis=alt.Axis(values=[0, 0.2, 0.4, 0.6, 0.8, 1.0], format=".1f", labels=show_x, title=None))
    ys = alt.Y("y:Q", scale=alt.Scale(domain=[-0.87, 1.27], nice=False, zero=False),
               axis=alt.Axis(values=[-0.5, 0, 0.5, 1.0], format=".1f", labels=show_y, title=None))

    zero = alt.Chart(pd.DataFrame({"y": [0.0]})).mark_rule(color="#111111", strokeWidth=2).encode(y=ys)
    ctrl = alt.Chart(to_frame(ctrl_curves[i], MATCHED)).mark_line(strokeWidth=2.6).encode(
        x=xs, y=ys, color=color, order="k:Q")
    bar = alt.Chart(to_frame(bar_curves[i], AHEAD if ahead[i] else BEHIND)).mark_line(strokeWidth=3.5).encode(
        x=xs, y=ys, color=color, order="k:Q")

    title = alt.TitleParams(
        [names[i], f"Sharpe {sharpe[i]:+.3f} · {rows_per_bar[i]:,} rows/bar"],
        anchor="start", frame="group", font=FONT, fontSize=16.7, fontWeight="normal",
        color="#1a1a1a", lineHeight=20, offset=6,
    )
    return alt.layer(zero, ctrl, bar).properties(width=422, height=251, title=title)


panels = [panel(i) for i in range(len(names))]
rows = [alt.hconcat(*panels[r:r + 4], spacing=24) for r in range(0, len(panels), 4)]

chart = alt.vconcat(*rows, spacing=25.5).properties(
    title=alt.TitleParams("one curve per bar type — donchian only", anchor="start", font=FONT,
                          fontSize=31, fontWeight="normal", color="#111111", dx=-16, offset=63),
    padding={"left": 4, "top": 6, "right": 5, "bottom": 5},
    background="#fafafa",
).configure_view(
    stroke=None
).configure_axis(
    grid=True, gridColor="#e6e6e6", gridWidth=1, domainColor="#e2e2e2", domainWidth=1.5,
    ticks=False, labelFont=FONT, labelFontSize=15, labelColor="#555555", labelPadding=7,
)

chart.save("out.html", embed_options={"renderer": "svg", "actions": False})
